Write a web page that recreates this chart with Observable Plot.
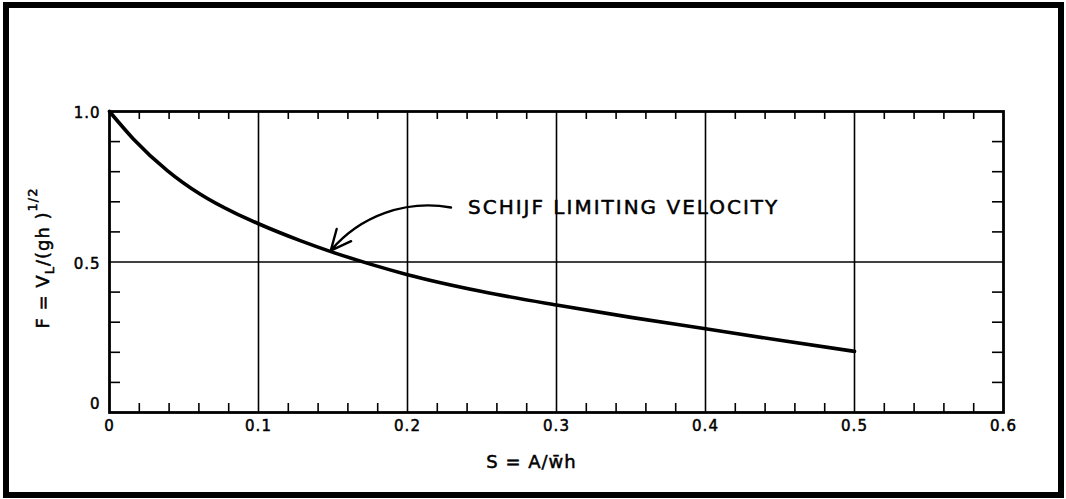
<!DOCTYPE html>
<html>
<head>
<meta charset="utf-8">
<script src="https://cdn.jsdelivr.net/npm/d3@7"></script>
<script src="https://cdn.jsdelivr.net/npm/@observablehq/plot@0.6"></script>
<style>
  html, body { margin: 0; padding: 0; background: #fff; }
  #wrap { position: relative; width: 1066px; height: 499px; overflow: hidden; }
  #border { position: absolute; left: 3px; top: 2px; width: 1061px; height: 496px; box-sizing: border-box; border: 6px solid #000; pointer-events: none; }
  svg text { font-family: "DejaVu Sans", sans-serif; }
</style>
</head>
<body>
<div id="wrap"><div id="chart"></div><div id="border"></div></div>
<script>
// Curve: Schijf limiting velocity
const S = [0, 0.016, 0.039, 0.061, 0.084, 0.1, 0.128, 0.15, 0.175, 0.2, 0.25, 0.3, 0.35, 0.4, 0.45, 0.5];
const F = [1.0, 0.909, 0.803, 0.725, 0.663, 0.627, 0.571, 0.532, 0.493, 0.458, 0.402, 0.357, 0.316, 0.278, 0.24, 0.203];

// Axes
const xMajor = [0, 0.1, 0.2, 0.3, 0.4, 0.5, 0.6];
const xLabels = ["0", "0.1", "0.2", "0.3", "0.4", "0.5", "0.6"];
const xGrid = [0.1, 0.2, 0.3, 0.4, 0.5];
const xMinor = [0.02, 0.04, 0.06, 0.08, 0.12, 0.14, 0.16, 0.18, 0.22, 0.24, 0.26, 0.28,
                0.32, 0.34, 0.36, 0.38, 0.42, 0.44, 0.46, 0.48, 0.52, 0.54, 0.56, 0.58];
const yLabelVals = [1.0, 0.5];
const yLabels = ["1.0", "0.5"];
const yZero = [0];
const yGrid = [0.5];
const yMinor = [0.1, 0.2, 0.3, 0.4, 0.6, 0.7, 0.8, 0.9];

// Annotation
const noteText = ["SCHIJF LIMITING VELOCITY"];
const noteAt = [0.2406, 0.681];
const arrowFrom = [0.2292, 0.681];
const arrowTo = [0.1485, 0.538];

const xTitle = "S = A/w\u0304h";
const yTitle = "F = VL/(gh )1/2";

const data = S.map((s, i) => ({s, f: F[i]}));

const W = 1066, H = 499;
const mL = 109, mR = 63, mT = 111, mB = 87;
const innerW = W - mL - mR, innerH = H - mT - mB;
const ink = {fill: "#000", stroke: "#000", strokeWidth: 0.5};

const plot = Plot.plot({
  width: W, height: H,
  marginLeft: mL, marginRight: mR, marginTop: mT, marginBottom: mB,
  x: {domain: [0, 0.6]},
  y: {domain: [0, 1]},
  axis: null,
  style: {background: "#fff", color: "#000", fontFamily: "DejaVu Sans"},
  marks: [
    // grid
    Plot.ruleX(xGrid, {x: d => d, y1: 0, y2: 1, stroke: "#000", strokeWidth: 1.6}),
    Plot.ruleY(yGrid, {y: d => d, x1: 0, x2: 0.6, stroke: "#000", strokeWidth: 1.6}),
    // minor ticks, inward
    Plot.tickX(xMinor, {x: d => d, insetTop: innerH - 9, stroke: "#000", strokeWidth: 1.6}),
    Plot.tickX(xMinor, {x: d => d, insetBottom: innerH - 8, stroke: "#000", strokeWidth: 1.6}),
    Plot.tickY(yMinor, {y: d => d, insetRight: innerW - 11, stroke: "#000", strokeWidth: 1.6}),
    Plot.tickY(yMinor, {y: d => d, insetLeft: innerW - 11, stroke: "#000", strokeWidth: 1.6}),
    Plot.frame({stroke: "#000", strokeWidth: 2.8}),
    // curve
    Plot.line(data, {x: "s", y: "f", stroke: "#000", strokeWidth: 3.6, curve: "monotone-x"}),
    // tick labels
    Plot.text(xMajor, {x: d => d, frameAnchor: "bottom", dy: 18, text: (d, i) => xLabels[i], fontSize: 15, ...ink}),
    Plot.text(yLabelVals, {y: d => d, frameAnchor: "left", dx: -9, dy: 2, textAnchor: "end", text: (d, i) => yLabels[i], fontSize: 15, ...ink}),
    Plot.text(yZero, {y: d => d, frameAnchor: "left", dx: -9, dy: -8, textAnchor: "end", text: d => "0", fontSize: 15, ...ink}),
    // axis titles
    Plot.text([xTitle], {frameAnchor: "bottom", dx: -25, dy: 55, fontSize: 18, ...ink}),
    Plot.text([yTitle], {frameAnchor: "left", rotate: -90, dx: -66, dy: -4, fontSize: 18, ...ink}),
    // annotation
    Plot.text(noteText, {x: () => noteAt[0], y: () => noteAt[1], textAnchor: "start", fontSize: 20, ...ink}),
    Plot.arrow([0], {x1: () => arrowFrom[0], y1: () => arrowFrom[1], x2: () => arrowTo[0], y2: () => arrowTo[1],
      bend: -30, stroke: "#000", strokeWidth: 2.4, headLength: 14, headAngle: 50})
  ]
});

// Build sub/superscripts in the y title, and letter spacing for text
plot.querySelectorAll("text").forEach(t => {
  if (t.textContent === yTitle) {
    t.textContent = "";
    t.setAttribute("text-anchor", "middle");
    const ns = "http://www.w3.org/2000/svg";
    const parts = [["F = V", null], ["L", "sub"], ["/(gh )", null], ["1/2", "sup"]];
    for (const [s, kind] of parts) {
      const sp = document.createElementNS(ns, "tspan");
      sp.textContent = s;
      if (kind === "sub") { sp.setAttribute("font-size", "13"); sp.setAttribute("baseline-shift", "-5"); }
      if (kind === "sup") { sp.setAttribute("font-size", "13"); sp.setAttribute("baseline-shift", "12"); }
      t.appendChild(sp);
    }
    t.style.letterSpacing = "1px";
  }
  if (t.textContent === noteText[0]) t.style.letterSpacing = "2px";
  if (t.textContent === xTitle) t.style.letterSpacing = "1px";
  if (xLabels.includes(t.textContent) || yLabels.includes(t.textContent)) t.style.letterSpacing = "1px";
});

document.getElementById("chart").appendChild(plot);
</script>
</body>
</html>
